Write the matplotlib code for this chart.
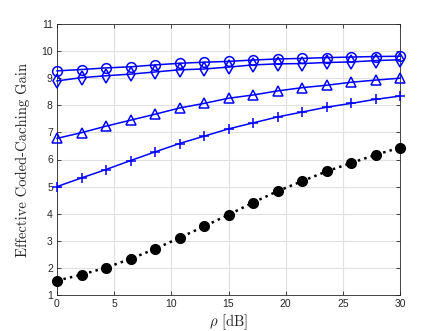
import numpy as np
import matplotlib
matplotlib.use("Agg")
import matplotlib.pyplot as plt

rho_db = np.linspace(0, 30, 15)
gain_circle = [9.27, 9.32, 9.38, 9.42, 9.49, 9.55, 9.59, 9.62, 9.67, 9.71, 9.73, 9.76, 9.78, 9.80, 9.81]
gain_diamond = [8.90, 9.02, 9.09, 9.15, 9.23, 9.31, 9.34, 9.41, 9.49, 9.53, 9.54, 9.58, 9.60, 9.65, 9.68]
gain_triangle = [6.78, 6.99, 7.23, 7.45, 7.67, 7.90, 8.07, 8.26, 8.38, 8.53, 8.65, 8.74, 8.85, 8.93, 9.00]
gain_plus = [5.00, 5.32, 5.63, 5.96, 6.28, 6.59, 6.86, 7.13, 7.35, 7.57, 7.75, 7.93, 8.07, 8.22, 8.34]
gain_black = [1.53, 1.75, 2.01, 2.33, 2.70, 3.11, 3.53, 3.96, 4.41, 4.83, 5.20, 5.56, 5.87, 6.17, 6.44]

xticks = [0, 5, 10, 15, 20, 25, 30]
yticks = [1, 2, 3, 4, 5, 6, 7, 8, 9, 10, 11]

plt.rcParams['mathtext.fontset'] = 'cm'
plt.rcParams['font.family'] = ['Liberation Sans', 'DejaVu Sans']

fig = plt.figure(figsize=(4.43, 3.31), dpi=100)
ax = fig.add_axes([57/443, 36/331, 343/443, 271/331])

blue = (0, 0, 1)
lw = 1.1
ax.plot(rho_db, gain_circle, '-o', color=blue, lw=lw, ms=7, mfc='none', mew=1.1, clip_on=False, zorder=3)
ax.plot(rho_db, gain_diamond, '-d', color=blue, lw=lw, ms=7, mfc='none', mew=1.1, clip_on=False, zorder=3)
ax.plot(rho_db, gain_triangle, '-^', color=blue, lw=lw, ms=7, mfc='none', mew=1.1, clip_on=False, zorder=3)
ax.plot(rho_db, gain_plus, '-+', color=blue, lw=lw, ms=7, mew=1.1, clip_on=False, zorder=3)
ax.plot(rho_db, gain_black, ':o', color='black', lw=1.8, ms=7, mfc='black', clip_on=False, zorder=3)

ax.set_xlim(0, 30)
ax.set_ylim(1, 11)
ax.set_xticks(xticks)
ax.set_yticks(yticks)
ax.set_xticklabels([str(t) for t in xticks], fontfamily='Liberation Sans')
ax.set_yticklabels([str(t) for t in yticks], fontfamily='Liberation Sans')
ax.grid(True, color=(0.88, 0.88, 0.88), lw=0.8)
ax.set_axisbelow(True)
ax.tick_params(direction='in', top=True, right=True, length=3, width=0.6,
               labelsize=7.5, colors=(0.15, 0.15, 0.15), pad=3)
for s in ax.spines.values():
    s.set_color((0.15, 0.15, 0.15))
    s.set_linewidth(0.6)

ax.set_xlabel(r'$\rho$ [dB]', fontfamily='cmr10', fontsize=10.5, color=(0.15, 0.15, 0.15), labelpad=2)
ax.set_ylabel('Effective Coded-Caching Gain', fontfamily='cmr10', fontsize=10.5, color=(0.15, 0.15, 0.15), labelpad=8)

fig.savefig('out.png', dpi=100)
